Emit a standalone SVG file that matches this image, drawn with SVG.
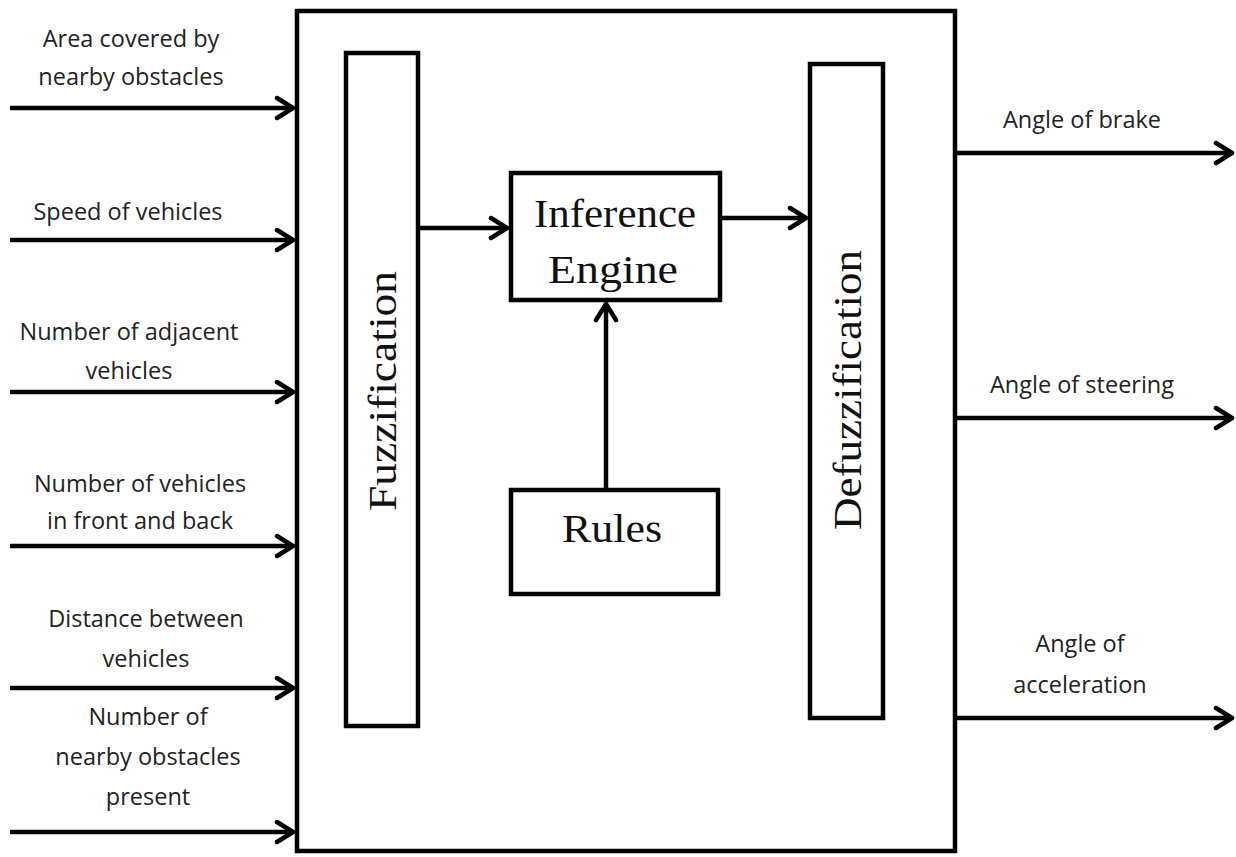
<svg xmlns="http://www.w3.org/2000/svg" width="1236" height="857" viewBox="0 0 1236 857">
<defs>
<marker id="ah" viewBox="0 0 24 26" refX="21" refY="13" markerWidth="24" markerHeight="26" markerUnits="userSpaceOnUse" orient="auto">
<path d="M5,3 L21,13 L5,23" fill="none" stroke="#000" stroke-width="4.5" stroke-linecap="round" stroke-linejoin="round"/>
</marker>
<style>
.box{fill:#fff;stroke:#000;stroke-width:4.5}
.ln{stroke:#000;stroke-width:4.5;fill:none;marker-end:url(#ah)}
.lbl{font-family:"Open Sans","Liberation Sans",sans-serif;font-size:23.5px;fill:#222;text-anchor:middle}
.big{font-family:"Liberation Serif",serif;font-size:40px;fill:#111;text-anchor:middle}
</style>
</defs>
<rect width="1236" height="857" fill="#fff"/>
<g id="system"><rect class="box" x="297" y="11" width="658" height="840"/></g>
<g id="fuzzification"><rect class="box" x="346" y="53" width="72" height="673"/>
<text class="big" transform="translate(396,391) rotate(-90)" textLength="240" lengthAdjust="spacingAndGlyphs">Fuzzification</text></g>
<g id="defuzzification"><rect class="box" x="810" y="64" width="73" height="654"/>
<text class="big" transform="translate(861,390) rotate(-90)" textLength="280" lengthAdjust="spacingAndGlyphs">Defuzzification</text></g>
<g id="inference"><rect class="box" x="511" y="173" width="209" height="127"/>
<text class="big" x="615" y="227" textLength="162" lengthAdjust="spacingAndGlyphs">Inference</text><text class="big" x="613" y="283" textLength="130" lengthAdjust="spacingAndGlyphs">Engine</text></g>
<g id="rules"><rect class="box" x="511" y="490" width="207" height="104"/>
<text class="big" x="612" y="542" textLength="100" lengthAdjust="spacingAndGlyphs">Rules</text></g>
<g id="labels">
<text class="lbl" x="131" y="47">Area covered by</text>
<text class="lbl" x="131" y="85">nearby obstacles</text>
<text class="lbl" x="128" y="220">Speed of vehicles</text>
<text class="lbl" x="129" y="340">Number of adjacent</text>
<text class="lbl" x="129" y="379">vehicles</text>
<text class="lbl" x="140" y="492">Number of vehicles</text>
<text class="lbl" x="140" y="529">in front and back</text>
<text class="lbl" x="146" y="627">Distance between</text>
<text class="lbl" x="146" y="667">vehicles</text>
<text class="lbl" x="148" y="725">Number of</text>
<text class="lbl" x="148" y="765">nearby obstacles</text>
<text class="lbl" x="148" y="805">present</text>
<text class="lbl" x="1082" y="128">Angle of brake</text>
<text class="lbl" x="1082" y="393">Angle of steering</text>
<text class="lbl" x="1080" y="652">Angle of</text>
<text class="lbl" x="1080" y="693">acceleration</text>
</g>
<g id="connectors">
<line class="ln" x1="10" y1="108" x2="293" y2="108"/>
<line class="ln" x1="10" y1="240" x2="293" y2="240"/>
<line class="ln" x1="10" y1="392" x2="293" y2="392"/>
<line class="ln" x1="10" y1="546" x2="293" y2="546"/>
<line class="ln" x1="10" y1="688" x2="293" y2="688"/>
<line class="ln" x1="10" y1="832" x2="293" y2="832"/>
<line class="ln" x1="957" y1="153" x2="1232" y2="153"/>
<line class="ln" x1="957" y1="418" x2="1232" y2="418"/>
<line class="ln" x1="957" y1="718" x2="1232" y2="718"/>
<line class="ln" x1="420" y1="228" x2="507" y2="228"/>
<line class="ln" x1="722" y1="218" x2="806" y2="218"/>
<line class="ln" x1="606" y1="488" x2="606" y2="304"/>
</g>
</svg>
